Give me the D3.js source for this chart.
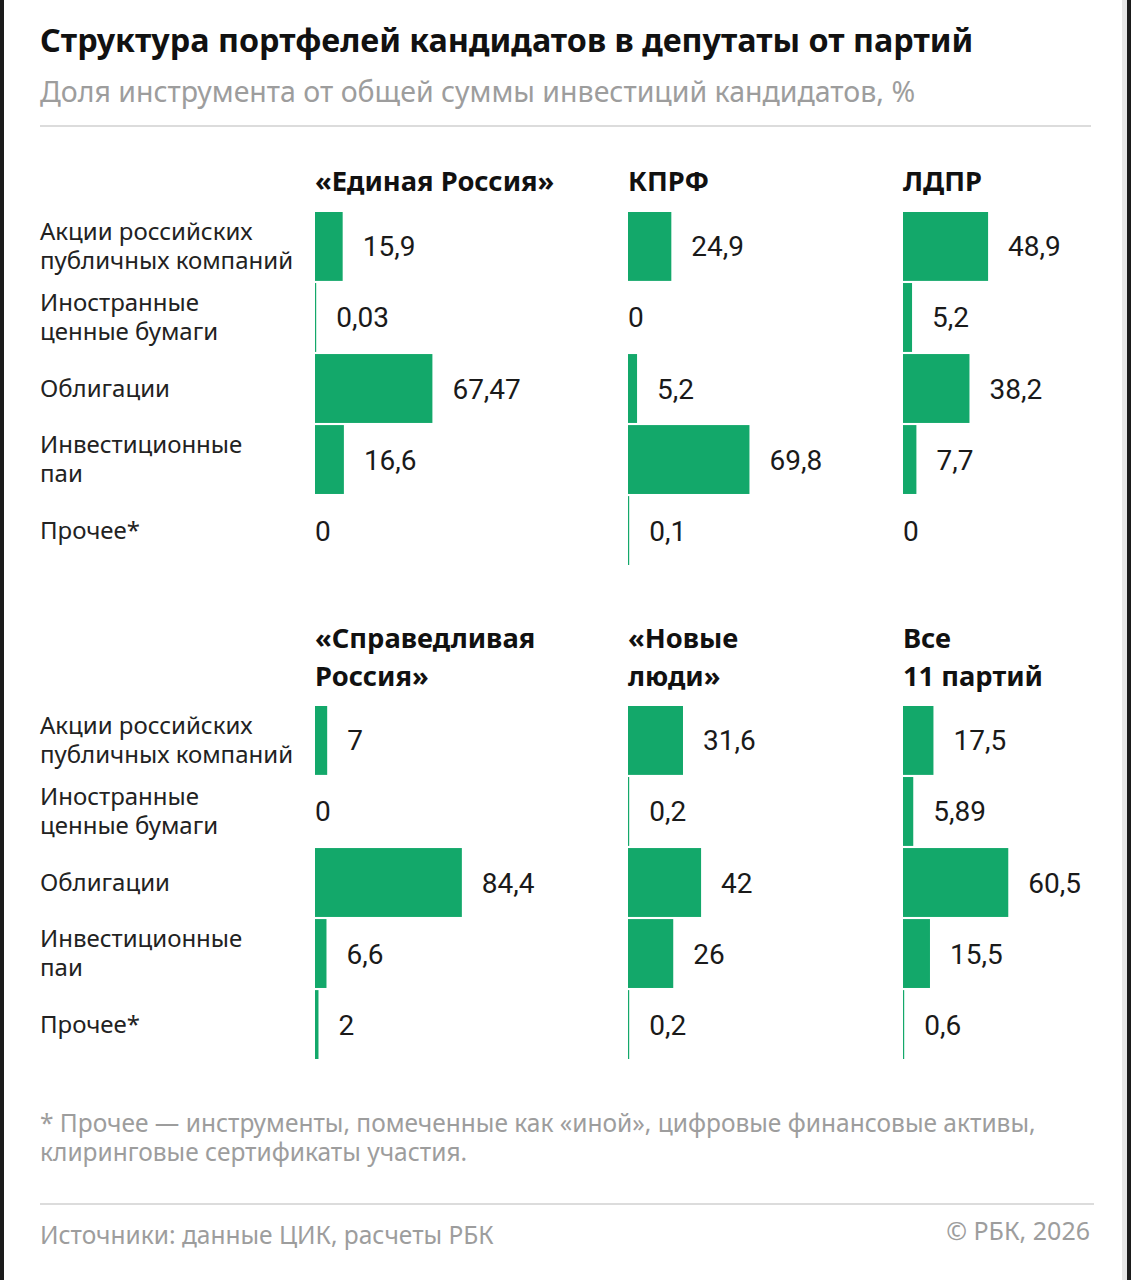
<!DOCTYPE html>
<html>
<head>
<meta charset="utf-8">
<script src="https://cdn.jsdelivr.net/npm/d3@7"></script>
<style>
  html, body { margin: 0; padding: 0; background: #fff; }
  svg { display: block; font-family: "Noto Sans", Roboto, sans-serif; }
  .num { font-family: Roboto, "Noto Sans", sans-serif; }
</style>
</head>
<body>
<svg id="chart" width="1131" height="1280"></svg>
<script>
const categories = [
  "Акции российских публичных компаний",
  "Иностранные ценные бумаги",
  "Облигации",
  "Инвестиционные паи",
  "Прочее*"
];
const categoryLines = [
  ["Акции российских", "публичных компаний"],
  ["Иностранные", "ценные бумаги"],
  ["Облигации"],
  ["Инвестиционные", "паи"],
  ["Прочее*"]
];

const parties = ["«Единая Россия»", "КПРФ", "ЛДПР", "«Справедливая Россия»", "«Новые люди»", "Все 11 партий"];
const partyLines = [
  ["«Единая Россия»"],
  ["КПРФ"],
  ["ЛДПР"],
  ["«Справедливая", "Россия»"],
  ["«Новые", "люди»"],
  ["Все", "11 партий"]
];

const unitedRussia = [15.9, 0.03, 67.47, 16.6, 0];
const kprf = [24.9, 0, 5.2, 69.8, 0.1];
const ldpr = [48.9, 5.2, 38.2, 7.7, 0];
const fairRussia = [7, 0, 84.4, 6.6, 2];
const newPeople = [31.6, 0.2, 42, 26, 0.2];
const allParties = [17.5, 5.89, 60.5, 15.5, 0.6];

const partyValues = [unitedRussia, kprf, ldpr, fairRussia, newPeople, allParties];

const green = "#13a86a";
const grey = "#9d9d9d";
const svg = d3.select("#chart");

// screenshot frame edges
svg.append("rect").attr("x", 0).attr("y", 0).attr("width", 4).attr("height", 1280).attr("fill", "#1b1b1b");
svg.append("rect").attr("x", 1122).attr("y", 0).attr("width", 6).attr("height", 1280).attr("fill", "#e6e6e6");
svg.append("rect").attr("x", 1127).attr("y", 0).attr("width", 4).attr("height", 1280).attr("fill", "#1b1b1b");

// title + subtitle
svg.append("text")
  .attr("x", 40).attr("y", 52)
  .style("font-size", "32.3px").style("font-weight", 700).attr("fill", "#111")
  .text("Структура портфелей кандидатов в депутаты от партий");

svg.append("text")
  .attr("x", 40).attr("y", 102)
  .style("font-size", "28.5px").attr("fill", grey)
  .text("Доля инструмента от общей суммы инвестиций кандидатов, %");

svg.append("line")
  .attr("x1", 40).attr("x2", 1091).attr("y1", 126).attr("y2", 126)
  .attr("stroke", "#dcdcdc").attr("stroke-width", 2);

const x = d3.scaleLinear().domain([0, 100]).range([0, 174]);
const y = d3.scaleBand().domain(categories).range([0, 353]).paddingInner(0.03).paddingOuter(0);

const columnX = [315, 628, 903];
const panels = [
  { top: 212, headBase: 191, partyIdx: [0, 1, 2] },
  { top: 706, headBase: 648, partyIdx: [3, 4, 5] }
];

const fmt = (v) => String(v).replace(".", ",");

panels.forEach((panel) => {
  const g = svg.append("g").attr("transform", `translate(0,${panel.top})`);

  // row labels
  categories.forEach((c, i) => {
    const lines = categoryLines[i];
    const cy = y(c) + y.bandwidth() / 2;
    const lh = 29;
    const t = g.append("text")
      .attr("x", 40)
      .style("font-size", "24px").attr("fill", "#222");
    lines.forEach((ln, j) => {
      t.append("tspan")
        .attr("x", 40)
        .attr("y", cy + 8 + (j - (lines.length - 1) / 2) * lh)
        .text(ln);
    });
  });

  panel.partyIdx.forEach((pi, col) => {
    const cx = columnX[col];
    const values = partyValues[pi];

    // header
    const head = svg.append("text")
      .attr("x", cx)
      .style("font-size", "27.3px").style("font-weight", 700).attr("fill", "#111");
    partyLines[pi].forEach((ln, j) => {
      head.append("tspan").attr("x", cx).attr("y", panel.headBase + j * 38).text(ln);
    });

    const col_g = g.append("g").attr("transform", `translate(${cx},0)`);
    const rows = categories.map((c, i) => ({ cat: c, v: values[i] }));

    col_g.selectAll("rect")
      .data(rows.filter((d) => d.v > 0))
      .join("rect")
      .attr("x", 0)
      .attr("y", (d) => y(d.cat))
      .attr("width", (d) => Math.max(1.2, x(d.v)))
      .attr("height", y.bandwidth())
      .attr("fill", green);

    col_g.selectAll("text")
      .data(rows)
      .join("text")
      .attr("class", "num")
      .attr("x", (d) => (d.v > 0 ? Math.max(1.2, x(d.v)) + 20 : 0))
      .attr("y", (d) => y(d.cat) + y.bandwidth() / 2 + 10)
      .style("font-size", "28px").attr("fill", "#1a1a1a")
      .text((d) => fmt(d.v));
  });
});

// footnote
const foot = svg.append("text").style("font-size", "24.5px").attr("fill", grey);
foot.append("tspan").attr("x", 40).attr("y", 1132)
  .text("* Прочее — инструменты, помеченные как «иной», цифровые финансовые активы,");
foot.append("tspan").attr("x", 40).attr("y", 1161)
  .text("клиринговые сертификаты участия.");

svg.append("line")
  .attr("x1", 40).attr("x2", 1094).attr("y1", 1204).attr("y2", 1204)
  .attr("stroke", "#dcdcdc").attr("stroke-width", 2);

svg.append("text")
  .attr("x", 40).attr("y", 1244)
  .style("font-size", "24.5px").attr("fill", grey)
  .text("Источники: данные ЦИК, расчеты РБК");

svg.append("text")
  .attr("x", 1090).attr("y", 1240)
  .attr("text-anchor", "end")
  .style("font-size", "25px").attr("fill", grey)
  .text("© РБК, 2026");
</script>
</body>
</html>
